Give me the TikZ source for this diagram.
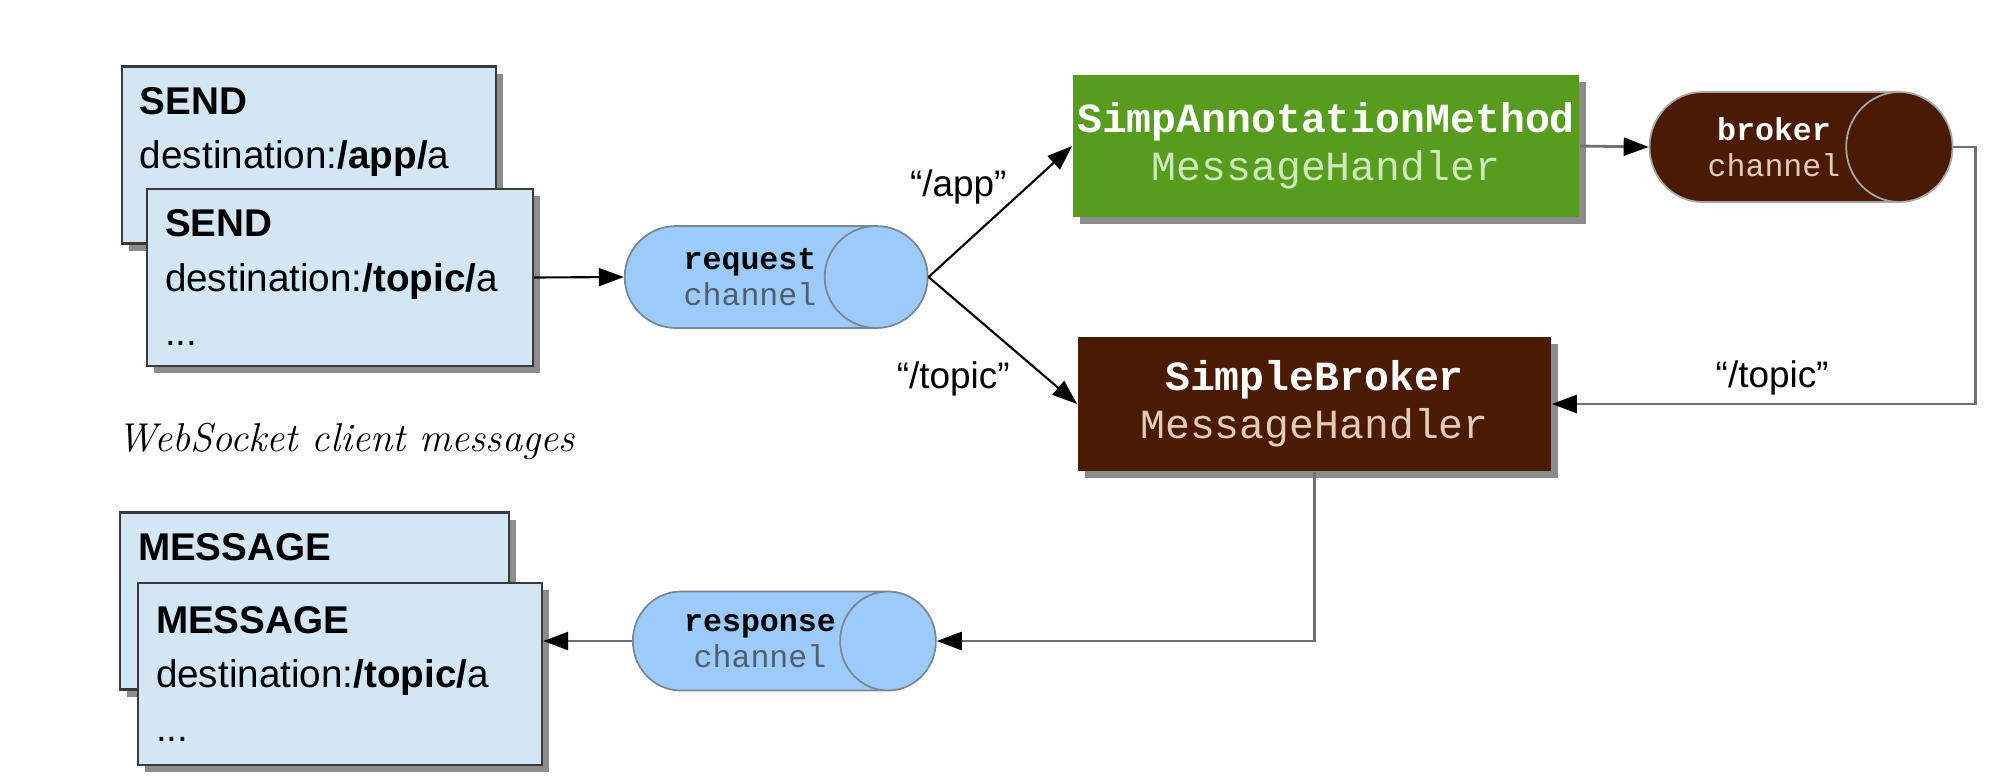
\documentclass[tikz,border=0pt]{standalone}
\usepackage{fontspec}
\setmonofont{Liberation Mono}
\newfontfamily\handfont{Liberation Sans}
\usepackage{tikz}
\usetikzlibrary{positioning, arrows.meta, shapes.geometric, shadows}
\definecolor{msgFill}{HTML}{D2E6F4}
\definecolor{msgLine}{HTML}{3A3A3A}
\definecolor{chFill}{HTML}{9CCBFA}
\definecolor{chLine}{HTML}{7A8794}
\definecolor{chText}{HTML}{4F5F70}
\definecolor{simpGreen}{HTML}{579B1F}
\definecolor{simpText}{HTML}{CFE8B8}
\definecolor{brokerBrown}{HTML}{4A1A02}
\definecolor{brokerText}{HTML}{E3CBB8}
\definecolor{wireGray}{HTML}{707070}
\tikzset{
  boxshadow/.style={drop shadow={shadow xshift=0.07cm, shadow yshift=-0.07cm, fill=black!45, opacity=1}},
  msgbox/.style={draw=msgLine, line width=0.7pt, fill=msgFill, boxshadow, minimum height=1.77cm,
    inner xsep=0.18cm, inner ysep=0pt, align=left, font=\handfont\fontsize{11}{15.5}\selectfont},
  handler/.style={line width=0.5pt, boxshadow, inner sep=0pt, align=center,
    font=\ttfamily\fontsize{11.8}{13.6}\selectfont},
  chan/.style={cylinder, aspect=1.8, cylinder uses custom fill, line width=0.5pt,
    minimum height=3.03cm, minimum width=1.02cm, inner sep=0pt, align=center,
    font=\ttfamily\fontsize{9}{10.2}\selectfont},
  reqchan/.style={chan, draw=chLine, cylinder body fill=chFill, cylinder end fill=chFill},
  brkchan/.style={chan, draw=gray!70, cylinder body fill=brokerBrown, cylinder end fill=brokerBrown, text=white},
  flow/.style={-{Triangle[length=0.25cm, width=0.18cm, color=black]}, line width=0.6pt, black},
  flowgray/.style={flow, wireGray, line width=0.8pt},
  routelabel/.style={font=\handfont\fontsize{10.5}{12}\selectfont, text=black, inner sep=2pt},
}

\begin{document}
\begin{tikzpicture}[>=Triangle]
  \useasboundingbox (0,0) rectangle (20,7.81);
  \node[msgbox, text width=3.38cm] (sendback) at (3.09,6.26)
    {\textbf{SEND}\\destination:\textbf{/app/}a\\\mbox{}};
  \node[msgbox, text width=3.50cm] (sendfront) at (3.40,5.035)
    {\textbf{SEND}\\destination:\textbf{/topic/}a\\...};
  \node[msgbox, text width=3.53cm] (msgback) at (3.145,1.80)
    {\textbf{MESSAGE}\\\mbox{}\\\mbox{}};
  \node[msgbox, text width=3.68cm, minimum height=1.82cm] (msgfront) at (3.40,1.07)
    {\textbf{MESSAGE}\\destination:\textbf{/topic/}a\\...};
  \node[anchor=west, inner sep=0pt, font=\fontsize{11.45}{13}\selectfont\itshape] (caption) at (1.17,3.40)
    {WebSocket client messages};
  \node[reqchan] (reqch) at (7.50,5.04) {\textbf{request}\\\textcolor{chText}{channel}};
  \node[reqchan, minimum width=0.99cm] (respch) at (7.60,1.40) {\textbf{response}\\\textcolor{chText}{channel}};
  \node[handler, fill=simpGreen, minimum width=5.06cm, minimum height=1.42cm] (simp) at (13.26,6.35)
    {\textcolor{white}{\textbf{SimpAnnotationMethod}}\\\textcolor{simpText}{MessageHandler}};
  \node[handler, fill=brokerBrown, minimum width=4.73cm, minimum height=1.34cm] (sbroker) at (13.145,3.77)
    {\textcolor{white}{\textbf{SimpleBroker}}\\\textcolor{brokerText}{MessageHandler}};
  \node[brkchan, minimum width=1.10cm] (brokerch) at (17.74,6.34)
    {\textbf{broker}\\\textcolor{brokerText}{channel}};
  \draw[flow] (sendfront.east) -- (reqch.west);
  \draw[flow] (reqch.east) -- node[routelabel, inner sep=0pt, pos=0.55, above left] {“/app”} (simp.west);
  \draw[flow] (reqch.east) -- node[routelabel, pos=0.6, below left] {“/topic”} (sbroker.west);
  \draw[flowgray] (simp.east) -- (brokerch.west);
  \draw[flowgray] (brokerch.east) -- ++(0.22,0) |- node[routelabel, pos=0.74, above] {“/topic”} (sbroker.east);
  \draw[flowgray] (sbroker.south) |- (respch.east);
  \draw[flowgray] (respch.west) -- (respch.west -| msgfront.east);
\end{tikzpicture}
\end{document}
